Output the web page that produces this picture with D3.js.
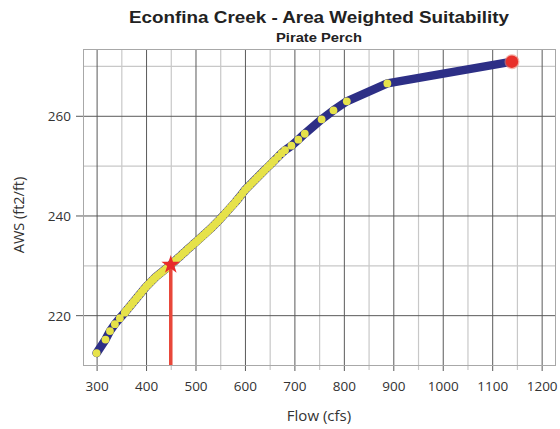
<!DOCTYPE html>
<html>
<head>
<meta charset="utf-8">
<script src="https://cdn.jsdelivr.net/npm/d3@7"></script>
<style>
  html, body { margin: 0; padding: 0; background: #fff; }
  svg { display: block; }
</style>
</head>
<body>
<svg id="chart" width="560" height="429"></svg>
<script>
// ---- data ----
const dotFlow = [300, 318, 327, 337, 347, 357, 360, 365, 370, 375, 380, 385, 390, 395,
  400, 405, 410, 415, 420, 425, 430, 435, 440, 445, 450, 455, 460, 465, 470, 475,
  480, 485, 490, 495, 500, 505, 510, 515, 520, 525, 530, 535, 540, 545, 550, 555,
  560, 565, 570, 575, 580, 585, 590, 595, 600, 605, 610, 615, 620, 625, 630, 635,
  640, 645, 650, 655, 660, 667, 674, 681, 694, 708, 721, 755, 779, 806, 888];
const dotAws = [212.4, 215.1, 216.8, 218.2, 219.4, 220.5, 220.9, 221.5, 222.1, 222.7, 223.3, 223.9, 224.5, 225.1,
  225.7, 226.2, 226.7, 227.2, 227.7, 228.1, 228.5, 228.9, 229.3, 229.7, 230.1, 230.6, 231.0, 231.5, 231.9, 232.4,
  232.8, 233.3, 233.7, 234.2, 234.6, 235.05, 235.5, 235.95, 236.4, 236.85, 237.3, 237.8, 238.3, 238.8, 239.3, 239.85,
  240.4, 240.95, 241.5, 242.05, 242.6, 243.2, 243.8, 244.45, 245.1, 245.6, 246.1, 246.6, 247.1, 247.6, 248.1, 248.6,
  249.1, 249.6, 250.1, 250.6, 251.1, 251.8, 252.5, 253.1, 254.0, 255.2, 256.4, 259.3, 261.1, 262.9, 266.5];
const endFlow = [1140];
const endAws = [270.85];
const markFlow = [450];
const markAws = [230.1];
const xTicks = [300, 400, 500, 600, 700, 800, 900, 1000, 1100, 1200];
const xMinor = [350, 450, 550, 650, 750, 850, 950, 1050, 1150];
const yTicks = [220, 240, 260];
const yMinor = [230, 250, 270];
const title = "Econfina Creek - Area Weighted Suitability";
const subtitle = "Pirate Perch";
const xLabel = "Flow (cfs)";
const yLabel = "AWS (ft2/ft)";

// ---- layout ----
const L = 83, R = 555, T = 49, B = 365;
const svg = d3.select("#chart");
const x = d3.scaleLinear().domain([272.5, 1227]).range([L, R]);
const y = d3.scaleLinear().domain([210, 273.4]).range([B, T]);
const FONT = "'Open Sans', 'Liberation Sans', Arial, sans-serif";

// grid
const g = svg.append("g");
g.selectAll(".xminor").data(xMinor).join("line")
  .attr("x1", d => x(d) + 0.5).attr("x2", d => x(d) + 0.5)
  .attr("y1", T).attr("y2", B + 5)
  .attr("stroke", "#c8c8c8").attr("stroke-width", 1.2);
g.selectAll(".yminor").data(yMinor).join("line")
  .attr("x1", L).attr("x2", R)
  .attr("y1", d => y(d) + 0.5).attr("y2", d => y(d) + 0.5)
  .attr("stroke", "#c8c8c8").attr("stroke-width", 1.2);
g.selectAll(".xmajor").data(xTicks).join("line")
  .attr("x1", d => x(d) + 0.5).attr("x2", d => x(d) + 0.5)
  .attr("y1", T).attr("y2", B + 6)
  .attr("stroke", "#5a5a5a").attr("stroke-width", 1);
g.selectAll(".ymajor").data(yTicks).join("line")
  .attr("x1", L - 7).attr("x2", R)
  .attr("y1", d => y(d) + 0.5).attr("y2", d => y(d) + 0.5)
  .attr("stroke", "#5a5a5a").attr("stroke-width", 1);
// frame
g.append("rect").attr("x", L + 0.5).attr("y", T + 0.5)
  .attr("width", R - L).attr("height", B - T)
  .attr("fill", "none").attr("stroke", "#a8a8a8").attr("stroke-width", 1);

// axes labels via d3 axes (text only)
const xAxis = d3.axisBottom(x).tickValues(xTicks).tickSize(0).tickPadding(0).tickFormat(d3.format("d"));
const xa = svg.append("g").attr("transform", `translate(0,${B})`).call(xAxis);
xa.select(".domain").remove();
xa.selectAll("text").attr("y", 26).attr("dy", null)
  .attr("font-family", FONT).attr("font-size", 13.5).attr("fill", "#333");

const yAxis = d3.axisLeft(y).tickValues(yTicks).tickSize(0).tickPadding(0).tickFormat(d3.format("d"));
const ya = svg.append("g").attr("transform", `translate(${L},0)`).call(yAxis);
ya.select(".domain").remove();
ya.selectAll("text").attr("x", -12).attr("dy", "0.36em")
  .attr("font-family", FONT).attr("font-size", 13.5).attr("fill", "#333");

// data
const pts = dotFlow.map((f, i) => ({ f, a: dotAws[i] }));
const linePts = pts.concat(endFlow.map((f, i) => ({ f, a: endAws[i] })));
const line = d3.line().x(d => x(d.f)).y(d => y(d.a)).curve(d3.curveLinear);
svg.append("path").datum(linePts).attr("d", line)
  .attr("fill", "none").attr("stroke", "#2d2f86").attr("stroke-width", 8.5)
  .attr("stroke-linecap", "round").attr("stroke-linejoin", "round");

svg.append("g").selectAll("circle").data(pts).join("circle")
  .attr("cx", d => x(d.f)).attr("cy", d => y(d.a)).attr("r", 3.9)
  .attr("fill", "#e6e24a");

// red vertical marker + star
const marks = markFlow.map((f, i) => ({ f, a: markAws[i] }));
svg.append("g").selectAll("line").data(marks).join("line")
  .attr("x1", d => x(d.f)).attr("x2", d => x(d.f))
  .attr("y1", d => y(d.a)).attr("y2", B)
  .attr("stroke", "#e8473a").attr("stroke-width", 3.5);
svg.append("g").selectAll("path").data(marks).join("path")
  .attr("d", d3.symbol(d3.symbolStar, 110))
  .attr("transform", d => `translate(${x(d.f)},${y(d.a)})`)
  .attr("fill", "#e82a2a");

// end point
const ends = endFlow.map((f, i) => ({ f, a: endAws[i] }));
svg.append("g").selectAll("circle.halo").data(ends).join("circle")
  .attr("cx", d => x(d.f)).attr("cy", d => y(d.a)).attr("r", 7.5)
  .attr("fill", "#f08070").attr("opacity", 0.6);
svg.append("g").selectAll("circle.end").data(ends).join("circle")
  .attr("cx", d => x(d.f)).attr("cy", d => y(d.a)).attr("r", 6.2)
  .attr("fill", "#e8302a");

// titles
svg.append("text").attr("x", (L + R) / 2).attr("y", 23).attr("text-anchor", "middle")
  .attr("font-family", "'Liberation Sans', Arial, sans-serif").attr("font-weight", "bold")
  .attr("font-size", 17).attr("fill", "#222")
  .attr("textLength", 380).attr("lengthAdjust", "spacingAndGlyphs").text(title);
svg.append("text").attr("x", (L + R) / 2).attr("y", 42).attr("text-anchor", "middle")
  .attr("font-family", "'Liberation Sans', Arial, sans-serif").attr("font-weight", "bold")
  .attr("font-size", 13.5).attr("fill", "#222")
  .attr("textLength", 86).attr("lengthAdjust", "spacingAndGlyphs").text(subtitle);
svg.append("text").attr("x", (L + R) / 2).attr("y", 421).attr("text-anchor", "middle")
  .attr("font-family", FONT).attr("font-size", 15).attr("fill", "#333").text(xLabel);
svg.append("text").attr("transform", `translate(24,${(T + B) / 2 + 8}) rotate(-90)`)
  .attr("text-anchor", "middle")
  .attr("font-family", FONT).attr("font-size", 14.5).attr("fill", "#333").text(yLabel);
</script>
</body>
</html>
